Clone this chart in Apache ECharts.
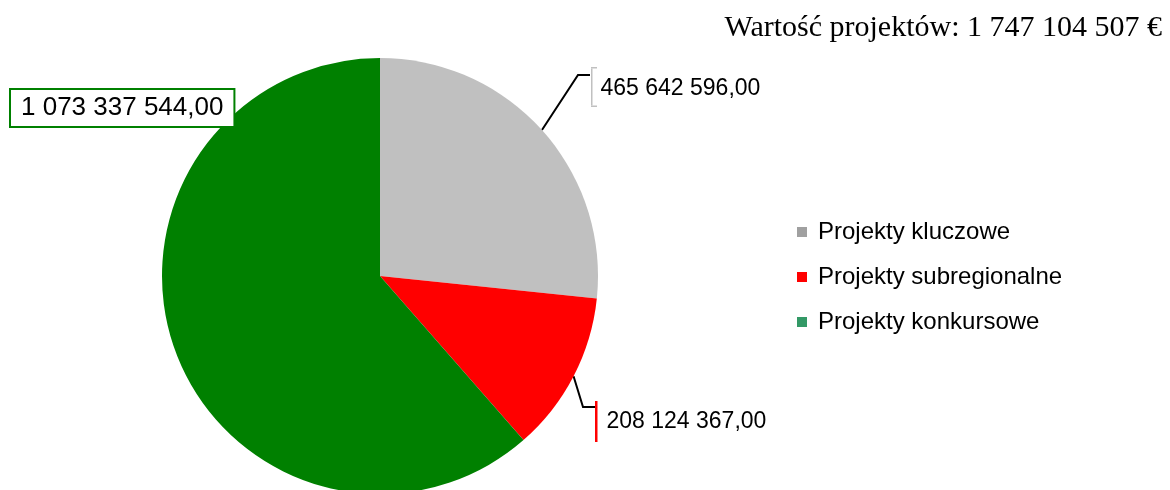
<!DOCTYPE html>
<html>
<head>
<meta charset="utf-8">
<script src="https://cdn.jsdelivr.net/npm/echarts@6/dist/echarts.min.js"></script>
<style>
html,body{margin:0;padding:0;background:#fff;}
#main{width:1170px;height:490px;}
</style>
</head>
<body>
<div id="main"></div>
<script>
var titleText = 'Wartość projektów: 1 747 104 507 €';
var categories = ['Projekty kluczowe', 'Projekty subregionalne', 'Projekty konkursowe'];
var values = [465642596.00, 208124367.00, 1073337544.00];
var sliceColors = ['#c0c0c0', '#ff0000', '#008000'];
var legendColors = ['#a0a0a0', '#ff0000', '#339966'];

function fmt(v) {
  var parts = v.toFixed(2).split('.');
  var s = parts[0].replace(/\B(?=(\d{3})+(?!\d))/g, ' ');
  return s + ',' + parts[1];
}

var chart = echarts.init(document.getElementById('main'), null, {renderer: 'canvas'});

var data = values.map(function (v, i) {
  var item = {name: categories[i], value: v, itemStyle: {color: sliceColors[i]}};
  if (i === 0) {
    item.label = {
      formatter: '{tk|}\n{bar|}{t|' + fmt(v) + '}\n{tk|}',
      rich: {
        tk: {width: 6, height: 1.5, backgroundColor: '#c0c0c0', lineHeight: 1.5},
        bar: {width: 1.5, height: 37, backgroundColor: '#c0c0c0'},
        t: {fontSize: 23, fontFamily: 'Liberation Sans, Arial', color: '#000', padding: [3, 0, 0, 8]}
      }
    };
  } else if (i === 1) {
    item.label = {
      formatter: '{bar|}{t|' + fmt(v) + '}',
      rich: {
        bar: {width: 2.5, height: 41, backgroundColor: '#ff0000'},
        t: {fontSize: 23, fontFamily: 'Liberation Sans, Arial', color: '#000', padding: [0, 0, 0, 9]}
      }
    };
  } else {
    item.label = {
      formatter: fmt(v),
      fontSize: 26,
      lineHeight: 26,
      fontFamily: 'Liberation Sans, Arial',
      color: '#000',
      backgroundColor: '#fff',
      borderColor: '#008000',
      borderWidth: 2,
      padding: [5, 10, 5, 10]
    };
    item.labelLine = {show: false};
  }
  return item;
});

var option = {
  backgroundColor: '#fff',
  animation: false,
  title: {
    text: titleText,
    right: 3,
    top: 8,
    textStyle: {fontFamily: 'Liberation Serif, Times New Roman, serif', fontSize: 30, fontWeight: 'normal', color: '#000'}
  },
  legend: {
    orient: 'vertical',
    left: 797,
    top: 220,
    padding: 0,
    itemWidth: 10,
    itemHeight: 10,
    itemGap: 21,
    icon: 'rect',
    data: categories.map(function (c, i) {
      return {name: c, itemStyle: {color: legendColors[i]}};
    }),
    textStyle: {fontFamily: 'Liberation Sans, Arial', fontSize: 24, color: '#000', lineHeight: 24, padding: [0, 0, 0, 6]}
  },
  series: [{
    type: 'pie',
    center: [380, 276],
    radius: 218,
    startAngle: 90,
    clockwise: true,
    avoidLabelOverlap: false,
    data: data,
    label: {show: true, position: 'outside'},
    labelLine: {show: true, length: 20, length2: 10, lineStyle: {color: '#000', width: 2}},
    emphasis: {disabled: true},
    labelLayout: function (p) {
      var pts = p.labelLinePoints;
      var i = p.dataIndex;
      if (i === 0) {
        var x = 591, y = 67;
        return {
          x: x, y: y, align: 'left', verticalAlign: 'top',
          labelLinePoints: [pts[0], [x - 13, y + 8], [x - 1, y + 8]]
        };
      } else if (i === 1) {
        var x2 = 595, y2 = 401;
        return {
          x: x2, y: y2, align: 'left', verticalAlign: 'top',
          labelLinePoints: [pts[0], [x2 - 12, y2 + 6], [x2, y2 + 6]]
        };
      } else {
        return {x: 11, y: 90, align: 'left', verticalAlign: 'top'};
      }
    }
  }]
};
chart.setOption(option);
</script>
</body>
</html>
